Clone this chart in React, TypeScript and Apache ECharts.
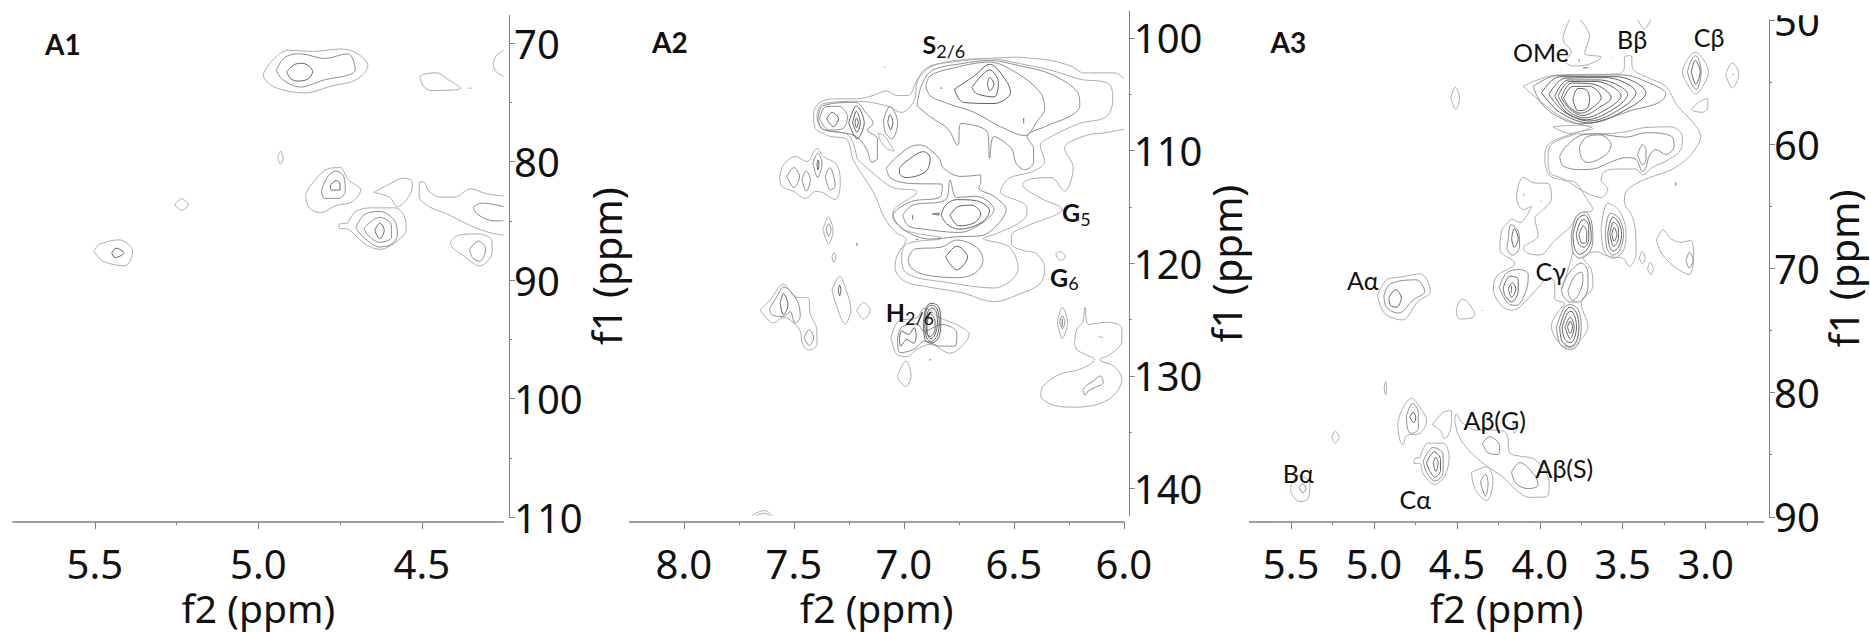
import React, { useEffect, useRef } from "react";
import * as echarts from "echarts";

type P = number[];
type C = P[];

// ---------- tick values ----------
const a1XMajor = [5.5, 5.0, 4.5];
const a1XMinor = [5.25, 4.75];
const a1YMajor = [70, 80, 90, 100, 110];
const a1YMinor = [75, 85, 95, 105];
const a2XMajor = [8.0, 7.5, 7.0, 6.5, 6.0];
const a2XMinor = [7.75, 7.25, 6.75, 6.25];
const a2YMajor = [100, 110, 120, 130, 140];
const a2YMinor = [105, 115, 125, 135];
const a3XMajor = [5.5, 5.0, 4.5, 4.0, 3.5, 3.0];
const a3XMinor = [5.25, 4.75, 4.25, 3.75, 3.25, 2.75];
const a3YMajor = [50, 60, 70, 80, 90];
const a3YMinor = [55, 65, 75, 85];

// ---------- A1 contours (f2 ppm, f1 ppm) ----------
const a1Light: C[] = [
  [[4.985,72.6],[4.955,71.4],[4.907,70.6],[4.834,70.7],[4.75,70.5],[4.702,70.8],[4.665,71.9],[4.702,73.1],[4.774,73.6],[4.859,74.2],[4.943,73.8],[4.979,73.1]],
  [[4.506,72.8],[4.49,72.6],[4.454,72.5],[4.424,73],[4.381,73.8],[4.472,74],[4.496,73.6]],
  [[4.932,79.1],[4.924,79.7],[4.932,80.2],[4.94,79.7]],
  [[5.234,83.1],[5.214,83.6],[5.234,84.1],[5.254,83.6]],
  [[4.855,82.8],[4.84,82],[4.786,80.6],[4.75,80.5],[4.726,81.5],[4.687,82.4],[4.714,83.4],[4.762,83.7],[4.81,84.3],[4.84,84],[4.852,83.4]],
  [[4.647,82.6],[4.599,81.9],[4.557,81.4],[4.529,81.7],[4.532,82.5],[4.575,83.8],[4.599,83]],
  [[4.726,85.2],[4.702,84.2],[4.653,83.9],[4.581,83.9],[4.55,84.9],[4.548,85.7],[4.575,86.7],[4.629,87.4],[4.677,86.9],[4.726,85.7],[4.753,85.6],[4.753,85.3]],
  [[4.412,86.7],[4.387,86.2],[4.327,86.1],[4.285,86.7],[4.285,87.6],[4.323,88.8],[4.375,87.9],[4.408,87.2]],
  [[5.502,87.6],[5.487,87],[5.426,86.6],[5.384,87.6],[5.408,88.8],[5.475,88.4]],
];
const a1LightOpen: C[] = [
  [[4.25,70.6],[4.273,71.1],[4.281,71.8],[4.273,72.4],[4.25,72.8]],
  [[4.36,73.8],[4.348,73.8]],
  [[4.25,82.9],[4.303,82.7],[4.351,82.3],[4.4,83],[4.442,83],[4.478,82.5],[4.496,81.7],[4.508,81.8],[4.508,82.9],[4.478,83.8],[4.424,84.4],[4.351,85.4],[4.291,86],[4.25,86.2]],
];
const a1Mid: C[] = [
  [[4.945,72.3],[4.919,71.2],[4.871,70.9],[4.798,71.3],[4.726,70.9],[4.71,71.4],[4.704,72.3],[4.726,72.7],[4.798,73.1],[4.871,73.7],[4.925,73.1]],
  [[4.807,82.4],[4.786,81.2],[4.762,80.8],[4.738,81.3],[4.734,82.5],[4.756,83.1],[4.798,83.1]],
  [[4.702,85.6],[4.677,84.5],[4.629,84.2],[4.581,85.1],[4.575,86.2],[4.593,86.97],[4.629,87.2],[4.677,86.4]],
  [[4.677,85.6],[4.629,84.7],[4.593,85.4],[4.593,86.4],[4.629,86.8],[4.665,86.2]],
  [[4.354,87.4],[4.327,86.7],[4.305,87.4],[4.323,88.4],[4.345,88.1]],
];
const a1MidOpen: C[] = [
  [[4.25,83.8],[4.315,83.5],[4.342,83.9],[4.327,84.5],[4.279,85],[4.25,84.98]],
];
const a1Dark: C[] = [
  [[4.913,72.4],[4.889,71.8],[4.865,71.7],[4.834,72.4],[4.847,73],[4.877,73.2],[4.901,73]],
  [[4.78,82],[4.762,81.6],[4.75,81.9],[4.75,82.4],[4.776,82.4]],
  [[4.644,85.8],[4.629,85.2],[4.615,85.8],[4.629,86.5]],
  [[5.448,87.7],[5.435,87.3],[5.411,87.7],[5.438,88.1]],
];

// ---------- A2 contours ----------
const a2LightOpen: C[] = [
  [[6,103.6],[6.04,103.1],[6.1,103.1],[6.18,103.1],[6.24,102.5],[6.33,102],[6.42,101.8],[6.49,101.7],[6.6,101.8],[6.72,101.9],[6.85,102.3],[6.9,102.7],[6.94,103.7],[6.98,105.1],[7.03,105.1],[7.08,104.7],[7.14,105.1],[7.21,105.4],[7.31,105.4],[7.38,105.7],[7.41,106.7],[7.405,107.9],[7.34,108.7],[7.26,109],[7.23,110.8],[7.17,112.7],[7.13,114],[7.09,115.9],[7.04,117.2],[6.99,117.9],[7.03,119.3],[7.04,120.4],[6.995,121.6],[6.89,122.1],[6.74,122.6],[6.59,123.4],[6.47,122.7],[6.38,121.8],[6.36,120.4],[6.4,119.1],[6.45,118.9],[6.51,118.3],[6.51,117.5],[6.44,116.7],[6.28,115.2],[6.38,114.2],[6.46,113],[6.42,112.5],[6.33,112.4],[6.27,113.6],[6.23,111.5],[6.27,109.8],[6.18,108.7],[6.08,108.4],[6,108.1]],
  [[7.69,142.4],[7.635,141.95],[7.596,142.4]],
  [[7.67,142.4],[7.635,142.2],[7.607,142.4]],
  [[6.115,126.5],[6.095,126.6]],
];
const a2Light: C[] = [
  [[7.213,111],[7.14,112.3],[7.05,113.6],[6.94,114],[7.05,115.9],[7,117.4],[6.83,118.2],[6.985,118.7],[7.01,119.8],[6.985,121.4],[6.8,122.2],[6.59,122.7],[6.48,120.96],[6.52,119],[6.64,118.2],[6.58,117.8],[6.455,116.5],[6.44,115.4],[6.56,113.95],[6.52,112.75],[6.42,112.2],[6.36,111.26],[6.38,109.8],[6.33,109],[6.2,107.8],[6.08,107.2],[6.05,105.6],[6.07,104.2],[6.2,103.8],[6.32,103.05],[6.47,102.4],[6.61,101.95],[6.74,102.15],[6.88,102.7],[6.94,104.1],[6.95,105.6],[7.01,106.8],[7.08,106.2],[7.21,105.8],[7.365,106],[7.395,107.2],[7.37,108.3],[7.25,108.9]],
  [[7.565,112.75],[7.547,111.56],[7.494,110.8],[7.44,111.26],[7.395,110.07],[7.365,110.8],[7.304,111.56],[7.289,113.35],[7.312,114.7],[7.365,114.1],[7.4,113.95],[7.448,114.6],[7.5,113.95],[7.554,113.5]],
  [[7.653,124.68],[7.608,123.78],[7.547,122.35],[7.494,123.49],[7.433,123.63],[7.426,124.98],[7.395,126.6],[7.395,127.8],[7.433,128.3],[7.46,127.8],[7.471,126.6],[7.509,125.7],[7.547,125.34],[7.592,125.87]],
  [[7.327,122.89],[7.292,121.64],[7.262,122.89],[7.241,124.68],[7.267,125.93],[7.305,124.38]],
  [[7.214,124.74],[7.183,124.02],[7.153,124.74],[7.183,125.5]],
  [[7.058,127.2],[7.024,125.7],[6.941,125.4],[6.908,124.53],[6.835,125.4],[6.744,126.17],[6.703,126.9],[6.744,128.1],[6.79,128.6],[6.88,127.8],[6.941,128.26],[6.986,128.9],[7.032,128.7]],
  [[7.029,130.65],[6.991,129.3],[6.967,130.65],[6.991,131.6],[7.02,131.1]],
  [[6.302,125.8],[6.28,124.44],[6.256,125.8],[6.28,127.28]],
  [[6.224,127.66],[6.214,126.47],[6.186,125.7],[6.176,124.44],[6.161,126],[6.077,125.8],[6.009,126.3],[6.009,127.5],[6.062,128.7],[6.11,129.2],[6.047,129.75],[6.009,130.95],[6.047,132.44],[6.138,133.33],[6.244,133.48],[6.335,133.18],[6.377,132.44],[6.365,131.54],[6.29,130.5],[6.199,130.05],[6.133,129.16],[6.176,128.7],[6.214,128.26]],
  [[6.31,119.6],[6.29,119.4],[6.265,119.9],[6.29,120.2]],
  [[7.368,117.4],[7.344,116.3],[7.322,117.5],[7.342,118.7]],
  [[7.327,119.9],[7.318,119.5],[7.309,119.9],[7.318,120.4]],
  [[7.115,108.7],[7.09,108.9],[7.043,110.3],[7.077,110.07],[7.11,109.2]],
];
const a2Mid: C[] = [
  [[6.94,106.2],[6.92,104.4],[6.87,103],[6.74,102.4],[6.61,102.1],[6.47,102.6],[6.33,103.35],[6.21,105],[6.2,106.2],[6.24,107.1],[6.36,108.1],[6.44,109],[6.41,110.1],[6.41,111.3],[6.45,112],[6.49,111.4],[6.51,110.1],[6.59,109],[6.61,110.96],[6.62,108.6],[6.74,107.8],[6.755,109.8],[6.8,108.3],[6.88,107.2]],
  [[6.9,104.4],[6.88,103.5],[6.8,102.9],[6.61,102.25],[6.49,103.2],[6.38,105],[6.36,106.5],[6.39,107.5],[6.45,108.9],[6.56,108.1],[6.68,106.8],[6.8,106],[6.88,105.3]],
  [[7.08,111.85],[7.03,110.8],[6.94,109.76],[6.9,109.9],[6.84,110.96],[6.82,111.85],[6.74,112.6],[6.65,112.45],[6.65,113.2],[6.66,113.64],[6.59,114.4],[6.535,115.6],[6.58,117.07],[6.65,117.97],[6.76,118.06],[6.88,118.27],[6.995,117.5],[7.05,116.2],[6.97,114.9],[6.835,114.45],[6.825,113.34],[6.99,113.2],[7.06,112.75]],
  [[7.005,116.1],[6.96,115.2],[6.81,114.7],[6.79,112.9],[6.76,114.5],[6.67,114.4],[6.59,115.6],[6.65,116.9],[6.75,117.67],[6.91,117.37],[6.98,117.07]],
  [[6.98,120.06],[6.95,119.17],[6.83,119],[6.76,118.36],[6.67,119],[6.64,120.2],[6.68,121.4],[6.76,121.76],[6.91,121.47],[6.97,120.8]],
  [[7.383,107.4],[7.357,106.3],[7.297,106.25],[7.256,107.2],[7.28,108.3],[7.34,108.4]],
  [[7.39,107.4],[7.368,106.2],[7.22,105.9],[7.17,106.9],[7.14,107.8],[7.165,108.4],[7.12,109.2],[7.12,110.96],[7.145,111.3],[7.17,110.07],[7.224,108.9],[7.37,108.3]],
  [[7.092,107.5],[7.064,106.25],[7.028,107.74],[7.054,109.2],[7.084,108.6]],
  [[7.532,112.6],[7.5,111.8],[7.474,112.6],[7.5,113.6]],
  [[7.463,112.9],[7.445,112.1],[7.425,112.9],[7.444,113.95]],
  [[7.413,111.4],[7.392,110.5],[7.372,111.4],[7.392,112.7]],
  [[7.357,112.6],[7.337,111.8],[7.312,113.5],[7.334,113.8]],
  [[7.353,117.4],[7.342,116.9],[7.331,117.4],[7.342,118]],
  [[7.61,124.53],[7.577,123.49],[7.547,122.6],[7.486,123.78],[7.471,125.28],[7.494,125.87],[7.517,124.83],[7.547,125.28],[7.6,125.13]],
  [[7.453,127.2],[7.43,126.47],[7.41,127.2],[7.43,127.9]],
  [[7.029,127.36],[7.009,126.23],[6.941,125.93],[6.908,126.6],[6.827,126],[6.759,126.77],[6.767,127.96],[6.835,127.96],[6.903,127.5],[6.956,128.26],[7.017,128.56]],
  [[6.291,125.8],[6.28,125.2],[6.268,125.8],[6.28,126.4]],
  [[6.186,131.9],[6.168,131.5],[6.138,131.1],[6.107,130.65],[6.093,131.24],[6.13,131.7],[6.161,132],[6.176,132.4]],
];
const a2Dark: C[] = [
  [[6.77,104.7],[6.68,103.5],[6.61,102.45],[6.53,104.1],[6.515,105],[6.59,106],[6.73,105.9]],
  [[6.69,104.55],[6.61,102.96],[6.57,104.1],[6.59,105.4],[6.67,105.1]],
  [[6.62,104.25],[6.61,103.65],[6.59,104.25],[6.61,104.85]],
  [[7.02,111.85],[6.99,111.25],[6.91,110.36],[6.88,110.96],[6.9,112.15],[6.99,112.7],[7.02,112.3]],
  [[6.83,116.1],[6.81,115.2],[6.76,114.7],[6.67,114.8],[6.61,115.73],[6.65,116.8],[6.75,117.37],[6.805,116.9]],
  [[6.79,116.1],[6.75,115.3],[6.69,115.2],[6.65,116],[6.68,116.8],[6.75,117.07]],
  [[6.81,119.9],[6.76,118.9],[6.71,119.9],[6.76,121.05]],
  [[7.35,107.4],[7.327,106.8],[7.297,107.4],[7.32,108.1]],
  [[7.25,107.74],[7.216,106.2],[7.18,107.74],[7.213,109.2]],
  [[7.233,107.74],[7.216,106.7],[7.198,107.74],[7.213,108.6]],
  [[7.222,107.74],[7.215,107.3],[7.207,107.74],[7.215,108.2]],
  [[7.073,107.68],[7.063,107],[7.05,107.74],[7.06,108.4]],
  [[7.395,111.56],[7.39,111.1],[7.386,111.56],[7.39,112]],
  [[7.562,124.08],[7.547,123.19],[7.527,124.23],[7.547,125.13]],
  [[7.298,122.89],[7.292,122.44],[7.286,122.89],[7.292,123.4]],
  [[7.02,127.2],[7.009,126.6],[6.979,126.9],[6.953,126.3],[6.944,127.07],[6.956,127.7],[6.986,127.36],[7.014,127.96]],
  [[6.911,125.87],[6.9,124.53],[6.877,124.08],[6.842,124.38],[6.832,125.87],[6.842,127.2],[6.877,127.7],[6.903,127.36]],
  [[6.905,125.87],[6.896,124.62],[6.877,124.26],[6.85,124.53],[6.839,125.87],[6.85,127.07],[6.877,127.54],[6.898,127.13]],
  [[6.899,125.87],[6.89,124.83],[6.874,124.5],[6.855,124.74],[6.847,125.87],[6.858,126.9],[6.877,127.3],[6.892,126.9]],
  [[6.895,126],[6.88,125],[6.858,125.7],[6.858,126.47],[6.88,127.07],[6.895,126.77]],
];
const a2DarkOpen: C[] = [
  [[6.455,107.3],[6.455,107.8]],
  [[6.835,104.6],[6.825,104.6]],
  [[6.87,116],[6.84,115.9],[6.84,116.1],[6.87,116]],
  [[6.96,116.1],[6.96,116.5]],
  [[6.945,118.3],[6.935,118.3]],
  [[7.213,118.6],[7.213,118.9]],
  [[7.09,102.7],[7.085,102.75]],
  [[6.885,129.2],[6.877,129.2]],
  [[6.28,125.5],[6.28,126.2]],
];

// ---------- A3 contours ----------
const a3LightDirect: C[] = [
  [[4.537,56.27],[4.51,55.41],[4.484,56.27],[4.508,57.2]],
  [[3.63,66.65],[3.59,64.75],[3.52,65.38],[3.48,67.12],[3.495,68.55],[3.555,69.18],[3.614,68.55]],
  [[3.4,69.18],[3.383,68.64],[3.364,69.18],[3.38,69.59]],
  [[3.35,70.06],[3.335,69.5],[3.316,70.06],[3.33,70.5]],
  [[3.297,67.75],[3.257,66.9],[3.21,67.6],[3.15,67.9],[3.09,67.75],[3.073,69.18],[3.1,70.5],[3.16,70.13],[3.22,69.5],[3.27,68.7]],
  [[4.98,72.18],[4.925,70.92],[4.84,70.7],[4.72,70.44],[4.66,71.87],[4.735,72.66],[4.83,74.15],[4.937,73.6]],
  [[4.503,73.29],[4.473,72.5],[4.44,72.66],[4.39,73.77],[4.473,74.08],[4.496,73.93]],
];
const a3MidDirect: C[] = [
  [[3.81,67.28],[3.78,65.86],[3.73,65.44],[3.69,66.17],[3.68,67.6],[3.7,68.7],[3.76,69.18],[3.8,68.7]],
  [[3.605,66.96],[3.574,65.54],[3.52,66.01],[3.495,67.28],[3.52,68.55],[3.56,68.93],[3.595,68.39]],
  [[4.19,67.6],[4.174,66.49],[4.127,67.12],[4.122,68.23],[4.163,68.93],[4.198,68.39]],
  [[3.9,74.72],[3.853,73.13],[3.817,72.91],[3.77,73.29],[3.75,74.72],[3.77,76.14],[3.817,76.52],[3.876,76.14]],
  [[3.118,69.34],[3.097,68.7],[3.076,69.34],[3.1,69.97]],
  [[4.94,72.18],[4.9,71.24],[4.747,70.92],[4.694,71.87],[4.76,72.5],[4.854,73.6],[4.925,73.13]],
];
const a3DarkDirect: C[] = [
  [[3.8,67.28],[3.77,66],[3.73,65.7],[3.7,66.33],[3.69,67.6],[3.72,68.55],[3.76,68.86],[3.79,68.39]],
  [[3.78,67.28],[3.757,66.27],[3.733,66.08],[3.705,66.65],[3.705,67.6],[3.733,68.3],[3.764,68.07]],
  [[3.764,67.28],[3.738,66.58],[3.717,67.12],[3.72,67.9],[3.745,67.98]],
  [[3.59,67.12],[3.56,65.86],[3.524,66.33],[3.507,67.28],[3.526,68.29],[3.56,68.61],[3.583,68.07]],
  [[3.578,67.2],[3.555,66.27],[3.526,66.8],[3.526,67.6],[3.555,68.23]],
  [[3.566,67.28],[3.552,66.7],[3.536,67.28],[3.552,67.82]],
  [[4.17,67.6],[4.155,66.8],[4.13,67.6],[4.155,68.3]],
  [[3.88,74.72],[3.846,73.45],[3.817,73.13],[3.78,73.55],[3.764,74.72],[3.78,75.89],[3.817,76.3],[3.865,75.89]],
  [[3.865,74.72],[3.836,73.67],[3.812,73.45],[3.788,73.93],[3.779,74.72],[3.793,75.67],[3.817,75.98],[3.853,75.6]],
  [[3.848,74.72],[3.817,73.93],[3.793,74.72],[3.817,75.67]],
  [[3.833,74.72],[3.817,74.24],[3.803,74.72],[3.817,75.25]],
  [[4.91,72.34],[4.87,71.7],[4.835,72.4],[4.866,73.13],[4.9,72.98]],
];

const a3Light: C[] = [
  [[4.1,55.43],[4.04,55.03],[3.9,54.5],[3.52,54.39],[3.49,53.83],[3.49,53.03],[3.45,52.9],[3.44,53.96],[3.34,54.76],[3.24,55.43],[3.17,57.03],[3.07,58.5],[3.03,59.57],[3.08,60.9],[3.14,61.7],[3.22,62.37],[3.38,63.16],[3.48,64.1],[3.49,64.9],[3.44,66.23],[3.42,68.1],[3.42,69.17],[3.46,70.24],[3.5,69.57],[3.58,69.44],[3.66,69.04],[3.74,69.49],[3.69,70.5],[3.68,71.84],[3.75,73.3],[3.71,75.17],[3.76,76.38],[3.817,76.9],[3.88,76.6],[3.93,75.17],[3.89,73.97],[3.85,73.3],[3.91,72.9],[3.91,71.57],[3.95,71.17],[4,71.84],[4.12,73.57],[4.17,73.84],[4.23,73.5],[4.28,72.1],[4.26,71.04],[4.15,69.97],[4.24,68.9],[4.23,67.3],[4.19,66.63],[4.17,66.36],[4.12,66.63],[4.05,65.3],[4.1,65.56],[4.14,64.63],[4.1,62.9],[4.04,63.35],[3.95,63.43],[3.93,64.63],[4,65.83],[4.03,66.23],[4.01,67.7],[4.1,68.77],[4.07,69.17],[4,69.3],[3.91,68.1],[3.81,66.9],[3.77,65.96],[3.68,65.56],[3.72,64.63],[3.79,63.3],[3.85,63.16],[3.94,62.76],[3.97,61.43],[3.95,60.23],[3.78,59.24],[3.68,58.9],[3.8,58.36],[3.9,57.7],[4,56.63]],
  [[3.78,59.34],[3.94,60.36],[3.95,61.43],[3.94,62.5],[3.85,63.08],[3.75,63.96],[3.63,64.58],[3.59,63.88],[3.63,63.16],[3.61,62.44],[3.52,62.23],[3.42,62.23],[3.38,62.71],[3.32,62.09],[3.22,61.43],[3.15,60.63],[3.14,59.56],[3.21,58.76],[3.36,58.81],[3.48,59.16],[3.56,59.29],[3.76,59.34]],
  [[3.92,58.76],[3.82,59.3],[3.74,59.08],[3.69,58.76],[3.8,58.63]],
  [[3.107,53.16],[3.063,52.63],[3.017,53.16],[2.983,54.23],[3.017,55.43],[3.061,56.04],[3.107,55.3],[3.141,54.23]],
  [[2.88,54.44],[2.84,53.5],[2.8,54.44],[2.84,55.56]],
  [[3.087,57.3],[3.037,56.68],[2.987,56.4],[2.987,57.16],[3.017,57.56],[3.067,57.48]],
  [[4.93,79.71],[4.924,80.24],[4.93,80.78],[4.938,80.24]],
  [[5.233,83.77],[5.211,84.27],[5.233,84.78],[5.253,84.27]],
  [[4.858,83.31],[4.834,82.11],[4.774,81.1],[4.723,81.85],[4.683,82.91],[4.723,83.98],[4.804,84.17],[4.824,84.92],[4.844,84.52]],
  [[4.649,83.26],[4.583,82.25],[4.533,82.11],[4.533,83.18],[4.573,84.43],[4.603,83.71]],
  [[4.723,85.98],[4.673,84.78],[4.583,84.78],[4.547,85.98],[4.573,87.45],[4.633,88.17],[4.703,87.32],[4.723,86.46],[4.758,86.46],[4.758,86.12]],
  [[4.513,82.78],[4.503,82.38],[4.472,83.05],[4.382,83.71],[4.282,83.71],[4.201,83.98],[4.181,85.58],[4.121,85.85],[4.03,86.12],[3.96,87.32],[3.944,88.12],[3.96,89.19],[4.061,89.24],[4.141,88.65],[4.221,87.58],[4.322,86.65],[4.422,85.45],[4.492,84.11]],
  [[4.161,83.18],[4.141,83.05],[4.137,83.58],[4.155,83.98]],
  [[4.412,87.18],[4.322,86.73],[4.282,87.85],[4.322,89.51],[4.392,88.52]],
  [[5.503,88.38],[5.456,87.45],[5.386,88.12],[5.396,89.32],[5.446,89.59],[5.497,88.92]],
];
const a3LightOpen: C[] = [
  [[3.82,49.9],[3.86,51.56],[3.81,52.63],[3.85,53.3],[3.8,53.75],[3.71,53.64],[3.63,53.03],[3.73,52.68],[3.7,51.29],[3.76,49.9]],
  [[3.41,49.9],[3.37,50.7],[3.33,49.9]],
  [[3.8,69.04],[3.83,70.5],[3.87,72.1]],
  [[3.565,53.03],[3.56,53.03]],
  [[4.353,73.86],[4.345,73.86]],
];
const a3Mid: C[] = [
  [[4.04,55.43],[3.9,54.55],[3.5,54.49],[3.34,55.16],[3.24,56.04],[3.28,56.76],[3.44,57.38],[3.66,58.36],[3.76,58.5],[3.92,57.7],[4,56.63]],
  [[3.88,61.16],[3.85,60.49],[3.76,59.5],[3.66,59.34],[3.56,59.5],[3.48,59.61],[3.36,59.24],[3.21,59.5],[3.19,60.36],[3.24,61.03],[3.3,60.63],[3.34,61.16],[3.36,62.09],[3.38,62.44],[3.42,61.43],[3.48,61.29],[3.58,61.7],[3.68,62.23],[3.76,62.28],[3.86,61.96]],
  [[3.76,60.36],[3.72,59.61],[3.64,59.42],[3.57,60.23],[3.6,61.03],[3.71,61.69],[3.75,61.29]],
  [[3.41,61.03],[3.38,60.23],[3.36,60.63],[3.36,61.43],[3.38,61.9]],
  [[3.11,54.23],[3.087,53.3],[3.06,52.9],[3.027,54.23],[3.057,55.7],[3.087,55.16]],
  [[4.245,71.97],[4.2,70.77],[4.12,70.5],[4.07,70.9],[4.08,72.1],[4.14,73.44],[4.19,73.3]],
  [[3.87,72.24],[3.83,70.9],[3.75,69.97],[3.71,70.77],[3.71,71.97],[3.77,73.17],[3.82,73.17],[3.86,72.64]],
  [[3.83,72.24],[3.79,71.04],[3.75,70.72],[3.74,71.3],[3.76,72.37],[3.8,73.04],[3.82,72.77]],
  [[4.804,82.51],[4.768,81.5],[4.733,82.25],[4.733,83.58],[4.774,83.98],[4.798,83.58]],
  [[4.703,86.25],[4.643,85.13],[4.583,85.72],[4.583,87.18],[4.633,87.9],[4.683,87.18]],
  [[4.346,84.78],[4.302,84.25],[4.242,85.05],[4.252,85.72],[4.312,85.58]],
  [[4.171,87.18],[4.121,86.38],[4.03,87.45],[4.01,88.25],[4.071,88.52],[4.141,88.12]],
  [[4.358,87.98],[4.328,87.32],[4.312,88.12],[4.328,89.13]],
  [[5.45,88.44],[5.43,88.12],[5.41,88.52],[5.43,88.87]],
];
const a3Dark: C[] = [
  [[3.99,55.96],[3.88,54.63],[3.54,54.63],[3.36,55.96],[3.44,57.03],[3.7,58.44],[3.88,57.56]],
  [[3.945,56.1],[3.85,54.76],[3.6,54.71],[3.42,55.96],[3.5,57.16],[3.7,58.28],[3.85,57.56]],
  [[3.91,56.23],[3.83,54.9],[3.64,54.9],[3.47,56.1],[3.54,57.16],[3.72,58.18],[3.84,57.56]],
  [[3.89,56.23],[3.82,55.03],[3.66,55.03],[3.51,56.23],[3.58,57.16],[3.73,58.02],[3.83,57.43]],
  [[3.87,56.36],[3.81,55.16],[3.68,55.24],[3.57,56.36],[3.64,57.16],[3.74,57.83],[3.82,57.3]],
  [[3.856,56.36],[3.8,55.43],[3.7,55.43],[3.63,56.36],[3.68,57.16],[3.75,57.64],[3.82,57.16]],
  [[3.8,56.5],[3.77,55.6],[3.72,55.7],[3.7,56.5],[3.72,57.3],[3.77,57.43]],
  [[3.087,54.23],[3.063,53.3],[3.033,54.23],[3.06,55.24]],
  [[4.22,71.97],[4.18,71.04],[4.13,71.3],[4.13,72.24],[4.17,73.17],[4.21,72.64]],
  [[4.19,72.1],[4.165,71.57],[4.145,72.1],[4.17,72.77]],
  [[4.784,82.65],[4.764,82.25],[4.748,82.65],[4.76,83.1]],
  [[4.683,86.38],[4.637,85.5],[4.599,86.12],[4.599,87.05],[4.633,87.58],[4.669,86.92]],
  [[4.643,86.44],[4.627,85.93],[4.613,86.44],[4.627,87.1]],
];
const a3DarkOpen: C[] = [
  [[3.763,53.2],[3.763,53.4]],
  [[3.74,53.9],[3.71,53.9]],
  [[3.18,63.3],[3.18,63.6]],
  [[4.097,64.28],[4.097,64.4]],
  [[3.995,64.84],[3.99,64.9]],
  [[3.057,54.36],[3.057,54.4]],
  [[2.834,54.4],[2.834,54.5]],
  [[3.46,68.16],[3.46,68.2]],
  [[4.171,71.84],[4.171,72.42]],
];

const LIGHT = "#adadad";
const MID = "#8e8e8e";
const DARK = "#636363";
const AXIS = "#808080";
const TICK_FONT = "Noto Sans";
const LABEL_FONT = "Lato";

// f1 scale correction for the readings taken from the finer crops.
const a2Recalibrate = (list: C[]): C[] => list.map((c) => c.map(([x, y]) => [x, 1.842 + 0.9809 * y]));
const a3Recalibrate = (list: C[]): C[] => list.map((c) => c.map(([x, y]) => [x, 1.099 + 0.97864 * y]));

function closed(c: C): C {
  return [...c, c[0]];
}

function lines(list: C[], color: string, axisIndex: number, isClosed: boolean) {
  return list.map((c) => ({
    type: "line",
    xAxisIndex: axisIndex * 2,
    yAxisIndex: axisIndex * 2,
    data: isClosed ? closed(c) : c,
    smooth: 0.35,
    showSymbol: false,
    symbol: "none",
    silent: true,
    clip: true,
    lineStyle: { color, width: 1 },
  }));
}

function xAxes(grid: number, min: number, max: number, major: number[], minor: number[], offset: number, gap: number) {
  return [
    {
      type: "value", gridIndex: grid, min, max, inverse: true, position: "bottom", offset,
      splitLine: { show: false },
      axisLine: { show: true, onZero: false, lineStyle: { color: AXIS, width: 1.5 } },
      axisTick: { show: true, length: 7, customValues: major, lineStyle: { color: AXIS } },
      axisLabel: { show: true, customValues: major, margin: 21, fontSize: 40, fontFamily: TICK_FONT, color: "#111", formatter: (v: number) => v.toFixed(1) },
      name: "f2 (ppm)", nameLocation: "middle", nameGap: gap,
      nameTextStyle: { fontSize: 39, fontFamily: TICK_FONT, color: "#111" },
    },
    {
      type: "value", gridIndex: grid, min, max, inverse: true, position: "bottom", offset,
      splitLine: { show: false },
      axisLine: { show: false, onZero: false },
      axisTick: { show: true, length: 3, customValues: minor, lineStyle: { color: AXIS } },
      axisLabel: { show: false },
    },
  ];
}

function yAxes(grid: number, min: number, max: number, major: number[], minor: number[], offset: number, gap: number) {
  return [
    {
      type: "value", gridIndex: grid, min, max, inverse: true, position: "right", offset,
      splitLine: { show: false },
      axisLine: { show: true, onZero: false, lineStyle: { color: AXIS, width: 1 } },
      axisTick: { show: true, length: 6, customValues: major, lineStyle: { color: AXIS } },
      axisLabel: { show: true, customValues: major, margin: 5, fontSize: 40, fontFamily: TICK_FONT, color: "#111", formatter: (v: number) => String(v), showMinLabel: true, showMaxLabel: true },
      name: "f1 (ppm)", nameLocation: "middle", nameGap: gap, nameRotate: 90,
      nameTextStyle: { fontSize: 40, fontFamily: TICK_FONT, color: "#111" },
    },
    {
      type: "value", gridIndex: grid, min, max, inverse: true, position: "right", offset,
      splitLine: { show: false },
      axisLine: { show: false, onZero: false },
      axisTick: { show: true, length: 3, customValues: minor, lineStyle: { color: AXIS } },
      axisLabel: { show: false },
    },
  ];
}

function label(text: string, x: number, y: number, bold = false) {
  return {
    type: "text", x, y, z: 50,
    style: {
      text, fontFamily: LABEL_FONT, fontSize: bold ? 28 : 25, fontWeight: bold ? "bold" : "normal",
      fill: "#111", verticalAlign: "middle", align: "left",
    },
  };
}

function subLabel(main: string, sub: string, x: number, y: number) {
  return {
    type: "text", x, y, z: 50,
    style: {
      text: `{m|${main}}{s|${sub}}`, verticalAlign: "middle", align: "left",
      rich: {
        m: { fontFamily: LABEL_FONT, fontSize: 25, fontWeight: "bold", fill: "#111", color: "#111", verticalAlign: "bottom" },
        s: { fontFamily: LABEL_FONT, fontSize: 18, fill: "#111", color: "#111", verticalAlign: "bottom", padding: [0, 0, -3, 0] },
      },
    },
  };
}

export default function App() {
  const ref = useRef<HTMLDivElement>(null);
  useEffect(() => {
    document.body.style.margin = "0";
    const chart = echarts.init(ref.current!, null, { renderer: "svg" });
    const xa = [
      ...xAxes(0, 4.25, 5.75, a1XMajor, a1XMinor, 5, 56),
      ...xAxes(1, 6.0, 8.247, a2XMajor, a2XMinor, 6.3, 56),
      ...xAxes(2, 2.65, 5.75, a3XMajor, a3XMinor, 5.3, 54),
    ];
    const ya = [
      ...yAxes(0, 67.65, 110, a1YMajor, a1YMinor, 5.4, 70),
      ...yAxes(1, 97.63, 142.42, a2YMajor, a2YMinor, 5, 70),
      ...yAxes(2, 50, 90, a3YMajor, a3YMinor, 5.3, 54),
    ];
    // every panel owns two axes per direction: index 2n carries the data and labels, 2n+1 the minor ticks
    const series = [
      ...lines(a1Light, LIGHT, 0, true), ...lines(a1LightOpen, LIGHT, 0, false),
      ...lines(a1Mid, MID, 0, true), ...lines(a1MidOpen, MID, 0, false),
      ...lines(a1Dark, DARK, 0, true),
      ...lines(a2Recalibrate(a2Light), LIGHT, 1, true), ...lines(a2LightOpen, LIGHT, 1, false),
      ...lines(a2Recalibrate(a2Mid), MID, 1, true),
      ...lines(a2Recalibrate(a2Dark), DARK, 1, true), ...lines(a2Recalibrate(a2DarkOpen), DARK, 1, false),
      ...lines(a3LightDirect, LIGHT, 2, true), ...lines(a3MidDirect, MID, 2, true), ...lines(a3DarkDirect, DARK, 2, true),
      ...lines(a3Recalibrate(a3Light), LIGHT, 2, true), ...lines(a3Recalibrate(a3LightOpen), LIGHT, 2, false),
      ...lines(a3Recalibrate(a3Mid), MID, 2, true),
      ...lines(a3Recalibrate(a3Dark), DARK, 2, true), ...lines(a3Recalibrate(a3DarkOpen), DARK, 2, false),
    ];
    chart.setOption({
      animation: false,
      backgroundColor: "#ffffff",
      tooltip: { show: false },
      grid: [
        { left: 13, top: 15.3, width: 490.6, height: 507.4 },
        { left: 629.5, top: 11.3, width: 494.3, height: 509.9 },
        { left: 1249.6, top: 13.5, width: 514.1, height: 510.5 },
      ],
      xAxis: xa,
      yAxis: ya,
      series,
      graphic: {
        elements: [
          { type: "rect", z: 40, shape: { x: 1240, y: 0, width: 630, height: 15.3 }, style: { fill: "#ffffff" } },
          label("A1", 45, 44.3, true),
          label("A2", 652, 41.5, true),
          label("A3", 1270.5, 41.5, true),
          subLabel("S", "2/6", 922.5, 44.3),
          subLabel("G", "5", 1062, 212.4),
          subLabel("G", "6", 1050, 276.9),
          subLabel("H", "2/6", 885.7, 311.6),
          label("OMe", 1513, 52.4),
          label("Bβ", 1617, 39.1),
          label("Cβ", 1693.7, 37.1),
          label("Aα", 1346.9, 280.1),
          label("Cγ", 1535.5, 270.9),
          label("Aβ(G)", 1463.5, 420.4),
          label("Aβ(S)", 1535.5, 467.6),
          label("Bα", 1282.8, 472.8),
          label("Cα", 1399.5, 499),
        ],
      },
    });
    return () => chart.dispose();
  }, []);
  return <div ref={ref} style={{ position: "absolute", left: 0, top: 0, width: 1870, height: 632 }} />;
}
